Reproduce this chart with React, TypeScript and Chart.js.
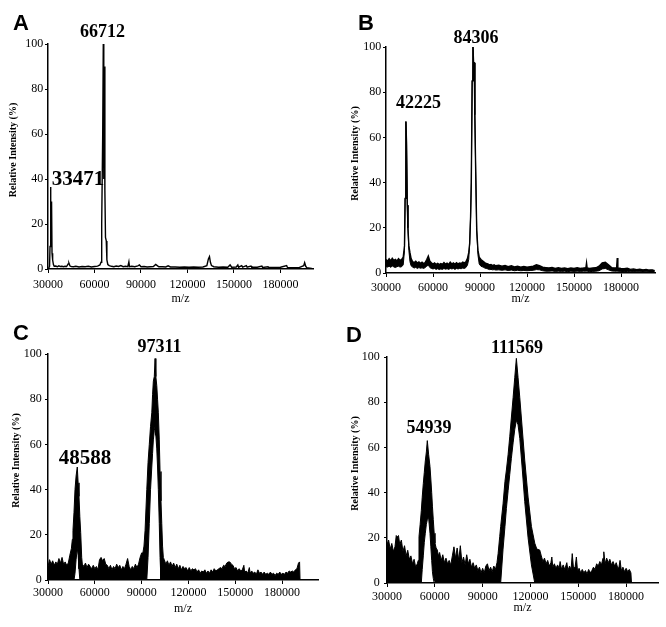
import React, { useEffect, useRef } from "react";
import { Chart, registerables } from "chart.js";

Chart.register(...registerables);

// ---------- data ----------
const X_TICKS = [30000, 60000, 90000, 120000, 150000, 180000];
const Y_TICKS = [0, 20, 40, 60, 80, 100];
const X_TITLE = "m/z";
const Y_TITLE = "Relative Intensity (%)";

// Panel A: [m/z, intensity]
const A_SPECTRUM: number[][] = [
  [30000, 0], [30600, 0.6], [31000, 1.2], [31300, 10], [31600, 36.5], [31900, 20], [32300, 30], [32600, 7], [33000, 4], [33500, 2],
  [34000, 1.2], [35000, 1.3], [36000, 1.0], [37000, 1.4], [38000, 1.1], [39000, 1.2], [40000, 1.0], [41000, 1.2], [42000, 1.1], [43000, 2.3],
  [43500, 2.6], [44200, 1.3], [45000, 1.1], [46500, 1.0], [48000, 1.2], [50000, 0.9], [52000, 1.1], [54000, 1.0], [56000, 1.2], [58000, 0.9],
  [60000, 1.1], [62000, 1.3], [63500, 1.8], [64200, 3], [64650, 20], [65300, 60], [65680, 100], [66000, 40], [66320, 90], [66700, 35],
  [67100, 14], [67600, 12.5], [68000, 4], [68600, 2], [69500, 1.5], [71000, 1.2], [72500, 1.0], [74000, 1.3], [75500, 1.1], [77000, 1.5],
  [78500, 1.0], [80000, 1.2], [81500, 1.0], [82200, 3.2], [82600, 1.0], [84000, 1.2], [86000, 1.0], [88000, 1.4], [89000, 1.8], [90000, 1.0],
  [92000, 1.1], [94000, 0.9], [96000, 1.0], [98000, 1.1], [99500, 2], [100500, 1.5], [101500, 1.0], [104000, 1.0], [106000, 0.9], [107500, 1.4],
  [109000, 0.9], [112000, 0.9], [115000, 0.8], [118000, 0.9], [121000, 0.8], [124000, 0.9], [127000, 0.8], [130000, 0.9], [132500, 1.5], [133500, 4.5],
  [134200, 5.5], [134800, 3], [135500, 1.5], [137000, 1.0], [140000, 0.8], [143000, 0.9], [146000, 0.8], [147500, 1.8], [148500, 0.8], [151500, 0.9],
  [152500, 1.8], [153000, 0.8], [155000, 1.5], [155600, 0.8], [158000, 1.5], [158500, 0.8], [161000, 1.3], [161500, 0.8], [165000, 0.8], [168000, 1.3],
  [168500, 0.7], [172000, 1.0], [172500, 0.7], [176000, 0.7], [180000, 0.8], [184000, 1.5], [184500, 0.7], [188000, 0.6], [192000, 0.6], [195000, 1.5],
  [195600, 2.8], [196300, 1.2], [197000, 0.6], [200000, 0.3], [201000, 0],
];

// Panels B, C, D: [m/z, upper envelope, lower envelope]
const B_SPECTRUM: number[][] = [
  [30000, 6, 2.8], [31000, 5.2, 2.6], [32000, 6.3, 3.0], [33000, 5.4, 2.5], [34000, 6.5, 3.1], [35000, 5.6, 2.7], [36000, 6.0, 2.4], [37000, 5.3, 2.8], [38000, 6.3, 3.0], [39000, 5.5, 2.6],
  [40000, 6.0, 2.8], [41000, 7.0, 3.6], [41800, 12, 10], [42200, 33, 33], [42700, 67, 67], [43100, 58, 58], [43600, 30, 30], [44000, 20, 20], [44600, 12, 10], [45300, 9, 5],
  [46000, 6.5, 3.2], [47000, 5, 2.6], [48000, 4.6, 2.2], [49000, 5.2, 2.5], [50000, 4.4, 2.0], [51000, 4.9, 2.4], [52000, 4.3, 2.1], [53000, 4.8, 2.3], [54000, 4.2, 2.0], [55000, 4.6, 2.4],
  [56000, 6.0, 3.0], [57000, 7.5, 3.5], [58000, 5.2, 2.4], [59000, 4.5, 2.0], [60000, 4.0, 1.8], [61000, 4.5, 2.0], [62000, 3.8, 1.6], [63000, 4.3, 1.9], [64000, 3.7, 1.5], [65000, 4.2, 1.8],
  [66000, 3.8, 1.6], [67000, 4.6, 2.0], [68000, 3.9, 1.7], [69000, 4.4, 1.9], [70000, 3.8, 1.6], [71000, 4.8, 2.0], [72000, 4.0, 1.8], [73000, 4.5, 2.0], [74000, 3.9, 1.6], [75000, 4.6, 2.0],
  [76000, 4.0, 1.8], [77000, 4.4, 2.0], [78000, 4.2, 1.9], [79000, 4.8, 2.2], [80000, 4.5, 2.0], [81000, 5.0, 2.4], [82000, 6.5, 3.5], [82800, 9, 6], [83400, 13, 13], [84000, 25, 25],
  [84450, 40, 40], [85000, 85, 85], [85530, 100, 100], [85900, 93, 93], [86300, 93, 93], [86700, 70, 70], [87250, 45, 45], [87900, 19, 19], [88700, 10, 8], [89500, 7, 4],
  [90600, 6, 3], [92000, 5.2, 2.6], [93000, 4.6, 2.2], [94000, 4.2, 2.0], [95000, 4.0, 1.8], [96000, 3.6, 1.5], [97000, 3.8, 1.6], [98000, 3.3, 1.4], [99000, 3.6, 1.5], [100000, 3.2, 1.3],
  [102000, 3.4, 1.4], [104000, 3.0, 1.2], [106000, 3.3, 1.4], [108000, 2.8, 1.1], [110000, 3.2, 1.3], [112000, 2.7, 1.0], [114000, 3.0, 1.2], [116000, 2.6, 1.0], [118000, 2.9, 1.1], [120000, 2.6, 1.0],
  [122000, 2.8, 1.1], [124000, 3.0, 1.2], [126000, 3.6, 1.5], [128000, 3.2, 1.4], [130000, 2.6, 1.0], [132000, 2.4, 0.8], [134000, 2.2, 0.8], [136000, 2.4, 0.9], [138000, 2.0, 0.7], [140000, 2.3, 0.8],
  [142000, 2.0, 0.7], [144000, 2.2, 0.8], [146000, 1.9, 0.6], [148000, 2.2, 0.8], [150000, 2.0, 0.7], [152000, 2.3, 0.8], [154000, 2.0, 0.7], [156000, 2.2, 0.8], [157600, 2.4, 0.8], [158000, 4.5, 0.8],
  [158400, 2.2, 0.8], [160000, 2.0, 0.6], [162000, 2.2, 0.7], [164000, 2.3, 0.8], [166000, 3.0, 1.0], [168000, 4.5, 1.8], [170000, 4.8, 2.0], [172000, 3.6, 1.4], [174000, 2.4, 0.9], [176000, 2.2, 0.8],
  [177200, 2.3, 0.8], [177600, 6.6, 0.8], [178000, 2.2, 0.8], [180000, 2.0, 0.7], [182000, 1.9, 0.6], [184000, 2.1, 0.7], [186000, 1.6, 0.5], [188000, 1.8, 0.6], [190000, 1.5, 0.5], [192000, 1.7, 0.5],
  [194000, 1.4, 0.4], [196000, 1.6, 0.5], [198000, 1.3, 0.4], [200000, 1.4, 0.4], [201500, 1.0, 0.4],
];

const C_SPECTRUM: number[][] = [
  [30000, 6, 0], [31000, 9, 0], [32000, 7, 0], [33000, 8.5, 0], [34000, 6.5, 0], [35000, 8, 0], [36000, 7, 0], [37000, 9.5, 0], [38000, 7.5, 0], [39000, 10, 0],
  [40000, 7, 0], [41000, 8, 0], [42000, 6.5, 0], [43000, 7.5, 0], [44000, 11, 0], [45000, 14, 0], [45600, 18, 0], [46000, 22, 0], [46660, 30, 0], [47300, 40, 3],
  [48000, 46, 9], [48770, 50, 14], [49300, 43, 11], [49860, 37, 5], [50400, 28, 0], [50950, 21, 0], [51590, 10, 0], [52000, 7, 0],
  [53000, 6, 0], [54000, 7.5, 0], [55000, 5.5, 0], [56000, 7, 0], [57000, 6, 0], [58000, 5, 0], [59000, 6.5, 0], [60000, 5, 0], [61000, 6, 0], [62000, 4.5, 0],
  [63000, 9, 0], [64000, 10, 0], [65000, 8.5, 0], [66000, 9.5, 0], [67000, 7, 0], [68000, 6.5, 0], [69000, 5, 0], [70000, 6.5, 0], [71000, 4.5, 0], [72000, 6, 0],
  [73000, 5, 0], [74000, 7, 0], [75000, 5.5, 0], [76000, 6.5, 0], [77000, 4.5, 0], [78000, 6, 0], [79000, 5, 0], [80000, 7, 0], [81000, 9.5, 0], [82000, 6, 0],
  [83000, 4.5, 0], [84000, 6, 0], [85000, 5, 0], [86000, 7, 0], [87000, 5.5, 0], [88000, 7, 0], [89000, 10, 0], [90000, 12, 0], [90800, 12, 0], [91500, 15, 0],
  [92200, 22, 0], [93300, 40, 0], [94100, 52, 10], [94900, 60, 25], [95700, 68, 40], [96500, 74, 50], [97000, 82, 56], [97500, 88, 62], [98100, 90, 66], [98600, 98, 68],
  [99100, 90, 64], [99700, 86, 58], [100200, 80, 50], [100700, 74, 40], [101300, 62, 25], [101800, 48, 10], [102400, 35, 0], [102900, 25, 0], [103400, 15, 0], [103900, 10, 0],
  [104500, 9, 0], [105500, 7, 0], [106500, 8.5, 0], [107500, 6.5, 0], [108500, 8, 0], [109500, 6, 0], [110500, 7.5, 0], [111500, 5.5, 0], [112500, 7, 0], [113500, 5, 0],
  [114500, 6.5, 0], [115500, 4.5, 0], [116500, 6, 0], [117500, 5, 0], [118500, 5.5, 0], [119500, 4, 0], [120500, 5.5, 0], [121500, 4, 0], [122500, 5, 0], [123500, 4.5, 0],
  [124500, 5, 0], [125500, 3.5, 0], [126500, 4.5, 0], [127500, 3, 0], [128500, 4, 0], [129500, 3.5, 0], [130500, 4.5, 0], [131500, 3, 0], [132500, 4, 0], [133500, 3, 0],
  [134500, 4.5, 0], [135500, 3.5, 0], [136500, 5, 0], [137500, 4, 0], [138500, 4.5, 0], [139500, 5, 0], [140500, 5.5, 0], [141500, 5, 0], [142500, 6.5, 0], [143500, 6, 0],
  [144500, 7.5, 0], [145500, 8, 0], [146500, 8, 0], [147500, 7, 0], [148500, 6.5, 0], [149500, 5, 0], [150500, 5.5, 0], [151500, 4, 0], [152500, 5, 0], [153500, 4, 0],
  [154500, 4.5, 0], [155500, 6.5, 0], [156000, 3.5, 0], [157000, 4, 0], [158000, 3, 0], [159000, 5.5, 0], [159500, 3, 0], [160500, 4, 0], [161500, 3, 0], [162500, 3.5, 0],
  [163500, 2.5, 0], [164500, 4.5, 0], [165500, 3, 0], [166500, 3.5, 0], [167500, 2.5, 0], [168500, 3.5, 0], [169500, 2.5, 0], [170500, 3, 0], [171500, 2.5, 0], [172500, 3.5, 0],
  [173500, 2.5, 0], [174500, 3, 0], [175500, 2, 0], [176500, 3, 0], [177500, 2.5, 0], [178500, 3.5, 0], [179500, 2.5, 0], [180500, 3, 0], [181500, 2.5, 0], [182500, 3.5, 0],
  [183500, 3, 0], [184500, 4, 0], [185500, 3.5, 0], [186500, 4, 0], [187500, 3.5, 0], [188500, 4.5, 0], [189500, 5, 0], [190500, 7.5, 0], [191200, 8, 0], [191500, 0, 0],
];

const D_SPECTRUM: number[][] = [
  [30000, 17, 0], [31000, 19, 0], [32000, 15, 0], [33000, 17.5, 0], [34000, 14, 0], [35000, 16, 0], [35800, 21, 0], [36500, 20.5, 0], [37200, 21, 0], [38000, 17, 0],
  [39000, 19, 0], [40000, 14, 0], [41000, 16.5, 0], [42000, 12, 0], [43000, 14.5, 0], [44000, 10.5, 0], [45000, 12, 0], [46000, 8.5, 0], [47000, 10.5, 0], [48000, 7, 0],
  [49000, 8.5, 0], [49600, 10, 0], [50070, 20.5, 0], [50800, 26, 0], [51520, 32, 0], [52100, 38, 6], [52770, 44, 12], [53400, 49, 18], [54030, 54, 22], [54700, 58, 26],
  [55280, 63, 28], [56100, 57, 29], [56970, 51.5, 22], [57500, 46, 16], [58040, 40, 10], [58500, 34, 5], [59040, 28, 2], [59600, 22, 0], [60110, 17.7, 0], [60800, 15.5, 0],
  [61550, 14.6, 0], [62300, 12, 0], [63000, 13.5, 0], [64000, 10, 0], [65000, 12.5, 0], [66000, 9, 0], [67000, 11, 0], [68000, 8.5, 0], [69000, 10, 0], [70000, 8, 0],
  [71000, 12, 0], [72000, 16, 0], [73000, 11, 0], [74000, 15.5, 0], [75000, 10, 0], [76000, 16.5, 0], [77000, 9, 0], [78000, 11.5, 0], [79000, 8, 0], [80000, 12.5, 0],
  [81000, 8.5, 0], [82000, 10.5, 0], [83000, 7, 0], [84000, 9, 0], [85000, 6.5, 0], [86000, 8, 0], [87000, 5.5, 0], [88000, 7, 0], [89000, 4.5, 0], [90000, 6.5, 0],
  [91000, 4.5, 0], [92000, 7.5, 0], [93000, 8.5, 0], [94000, 5.5, 0], [95000, 7, 0], [96000, 5, 0], [97000, 7.5, 0], [98000, 6, 0], [99000, 9, 0], [99700, 13, 0],
  [100700, 20.5, 0], [101300, 25, 0], [102800, 35, 15], [104000, 45, 25], [104900, 50, 33], [106000, 57, 41], [107000, 64.7, 48], [108000, 73, 55], [109100, 82, 62], [110150, 91, 68],
  [111150, 99.4, 72], [112200, 91, 70], [113300, 82, 64], [114900, 67.7, 50], [116400, 54.4, 36], [118500, 38, 20], [120600, 25, 8], [122700, 17.6, 0], [124000, 15, 0], [125800, 14.6, 0],
  [126800, 12, 0], [127800, 9.5, 0], [128800, 11, 0], [129800, 8.5, 0], [130800, 10, 0], [131800, 7.5, 0], [132800, 9, 0], [133400, 11.5, 0], [134000, 7, 0], [135000, 8.5, 0],
  [136000, 6.5, 0], [137000, 8, 0], [138000, 6.5, 0], [138600, 9.5, 0], [139500, 6, 0], [140500, 8, 0], [141500, 6, 0], [142800, 9, 0], [143500, 5.5, 0], [144500, 7.5, 0],
  [145500, 6, 0], [146200, 13, 0], [147000, 6.5, 0], [148000, 7, 0], [148800, 11.5, 0], [149500, 5.5, 0], [150500, 6.5, 0], [151500, 4.5, 0], [152500, 6, 0], [153500, 4.5, 0],
  [154500, 5.5, 0], [155500, 4, 0], [156500, 6, 0], [157500, 4.5, 0], [158500, 5.5, 0], [159500, 7, 0], [160500, 6, 0], [161500, 8.5, 0], [162500, 7.5, 0], [163500, 9.5, 0],
  [164500, 8, 0], [165500, 11, 0], [166000, 13.8, 0], [166800, 8.5, 0], [167800, 11, 0], [168800, 9, 0], [169800, 10.5, 0], [170800, 8, 0], [171800, 9.5, 0], [172800, 7.5, 0],
  [173800, 9, 0], [174800, 6.5, 0], [175500, 7, 0], [176200, 10, 0], [177000, 5.5, 0], [178000, 7, 0], [179000, 5, 0], [180000, 6.5, 0], [181000, 5, 0], [182000, 6, 0],
  [183000, 4.5, 0], [183400, 0, 0],
];

// Peak annotations: text, m/z position (centre), baseline intensity, font size
const A_PEAK_TEXT = ["66712", "33471"];
const A_PEAK_MZ = [65170, 49360];
const A_PEAK_Y = [103.1, 37.3];
const A_PEAK_SIZE = [18, 21];

const B_PEAK_TEXT = ["84306", "42225"];
const B_PEAK_MZ = [87450, 50750];
const B_PEAK_Y = [101.8, 73.0];
const B_PEAK_SIZE = [18, 18];

const C_PEAK_TEXT = ["97311", "48588"];
const C_PEAK_MZ = [101440, 53700];
const C_PEAK_Y = [101.0, 51.3];
const C_PEAK_SIZE = [18, 21];

const D_PEAK_TEXT = ["111569", "54939"];
const D_PEAK_MZ = [111550, 56350];
const D_PEAK_Y = [101.6, 66.2];
const D_PEAK_SIZE = [18, 18];

// ---------- layout ----------
type Panel = {
  letter: string;
  left: number; top: number; width: number; height: number;
  padTop: number; padRight: number; yAxisW: number; xAxisH: number; xMax: number;
  yTitleX: number; xTitlePad: number; xTickPad: number; yTickPad: number;
  letterX: number; letterY: number;
  kind: "line" | "band";
  spectrum: number[][];
  peakText: string[]; peakMz: number[]; peakY: number[]; peakSize: number[];
};

const PANELS: Panel[] = [
  {
    letter: "A", left: 0, top: 0, width: 333, height: 313,
    padTop: 44, padRight: 20, yAxisW: 48, xAxisH: 44, xMax: 201000,
    yTitleX: 13, xTitlePad: 6.8, xTickPad: 4.3, yTickPad: 1.7, letterX: 13, letterY: 30,
    kind: "line", spectrum: A_SPECTRUM,
    peakText: A_PEAK_TEXT, peakMz: A_PEAK_MZ, peakY: A_PEAK_Y, peakSize: A_PEAK_SIZE,
  },
  {
    letter: "B", left: 333, top: 0, width: 333, height: 313,
    padTop: 47, padRight: 11, yAxisW: 53, xAxisH: 40, xMax: 201700,
    yTitleX: 22.5, xTitlePad: 6.8, xTickPad: 3.3, yTickPad: 1.7, letterX: 25, letterY: 30,
    kind: "band", spectrum: B_SPECTRUM,
    peakText: B_PEAK_TEXT, peakMz: B_PEAK_MZ, peakY: B_PEAK_Y, peakSize: B_PEAK_SIZE,
  },
  {
    letter: "C", left: 0, top: 313, width: 333, height: 314,
    padTop: 41, padRight: 15, yAxisW: 48, xAxisH: 47, xMax: 203000,
    yTitleX: 16, xTitlePad: 10.8, xTickPad: 1.5, yTickPad: 3.3, letterX: 13, letterY: 27,
    kind: "band", spectrum: C_SPECTRUM,
    peakText: C_PEAK_TEXT, peakMz: C_PEAK_MZ, peakY: C_PEAK_Y, peakSize: C_PEAK_SIZE,
  },
  {
    letter: "D", left: 333, top: 313, width: 333, height: 314,
    padTop: 44, padRight: 8, yAxisW: 54, xAxisH: 44, xMax: 200000,
    yTitleX: 22.5, xTitlePad: 12.3, xTickPad: 2.3, yTickPad: 4.3, letterX: 13, letterY: 29,
    kind: "band", spectrum: D_SPECTRUM,
    peakText: D_PEAK_TEXT, peakMz: D_PEAK_MZ, peakY: D_PEAK_Y, peakSize: D_PEAK_SIZE,
  },
];

const SERIF = '"Liberation Serif", "Times New Roman", serif';
const SANS = '"Liberation Sans", Arial, sans-serif';

function buildChart(canvas: HTMLCanvasElement, p: Panel): Chart {
  const datasets: any[] = [];
  if (p.kind === "line") {
    datasets.push({
      data: p.spectrum.map((r) => ({ x: r[0], y: r[1] })),
      borderColor: "#000",
      borderWidth: 1.4,
      pointRadius: 0,
      fill: false,
      tension: 0,
    });
  } else {
    datasets.push({
      data: p.spectrum.map((r) => ({ x: r[0], y: r[1] })),
      borderColor: "#000",
      backgroundColor: "#000",
      borderWidth: p.letter === "B" ? 1.4 : 1,
      pointRadius: 0,
      fill: "+1",
      tension: 0,
    });
    datasets.push({
      data: p.spectrum.map((r) => ({ x: r[0], y: r[2] })),
      borderColor: "#000",
      borderWidth: 1,
      pointRadius: 0,
      fill: false,
      tension: 0,
    });
  }

  const annot = {
    id: "peakAnnotations",
    afterDatasetsDraw(chart: any) {
      const { ctx, scales, chartArea } = chart;
      ctx.save();
      ctx.fillStyle = "#000";
      ctx.textAlign = "center";
      ctx.textBaseline = "alphabetic";
      p.peakText.forEach((t, i) => {
        ctx.font = `bold ${p.peakSize[i]}px ${SERIF}`;
        ctx.fillText(t, scales.x.getPixelForValue(p.peakMz[i]), scales.y.getPixelForValue(p.peakY[i]));
      });
      // y-axis title
      ctx.save();
      ctx.translate(p.yTitleX, (chartArea.top + chartArea.bottom) / 2 - 6.5);
      ctx.rotate(-Math.PI / 2);
      ctx.font = `bold 10px ${SERIF}`;
      ctx.textAlign = "center";
      ctx.textBaseline = "middle";
      ctx.fillText(Y_TITLE, 0, 0);
      ctx.restore();
      // panel letter
      ctx.textAlign = "left";
      ctx.font = `bold 22px ${SANS}`;
      ctx.fillText(p.letter, p.letterX, p.letterY);
      ctx.restore();
    },
  };

  return new Chart(canvas, {
    type: "line",
    data: { datasets },
    options: {
      animation: false,
      responsive: false,
      devicePixelRatio: 1,
      layout: { padding: { top: p.padTop, right: p.padRight, left: 0, bottom: 0 } },
      plugins: { legend: { display: false }, tooltip: { enabled: false } },
      scales: {
        x: {
          type: "linear",
          min: 30000,
          max: p.xMax,
          afterFit: (s: any) => { s.height = p.xAxisH; },
          afterBuildTicks: (s: any) => { s.ticks = X_TICKS.map((v) => ({ value: v })); },
          ticks: {
            color: "#000",
            font: { family: SERIF, size: 12 },
            padding: p.xTickPad,
            maxRotation: 0,
            autoSkip: false,
            callback: (v: any) => String(v),
          },
          grid: { display: true, drawOnChartArea: false, drawTicks: true, tickLength: 4, color: "#000", lineWidth: 1 },
          border: { display: true, color: "#000", width: 1.5 },
          title: {
            display: true,
            text: X_TITLE,
            color: "#000",
            font: { family: SERIF, size: 12 },
            padding: { top: 0, bottom: p.xTitlePad },
          },
        },
        y: {
          type: "linear",
          min: 0,
          max: 100,
          afterFit: (s: any) => { s.width = p.yAxisW; },
          afterBuildTicks: (s: any) => { s.ticks = Y_TICKS.map((v) => ({ value: v })); },
          ticks: {
            color: "#000",
            font: { family: SERIF, size: 12 },
            padding: p.yTickPad,
            callback: (v: any) => String(v),
          },
          grid: { display: true, drawOnChartArea: false, drawTicks: true, tickLength: 3, color: "#000", lineWidth: 1 },
          border: { display: true, color: "#000", width: 1.5 },
          title: { display: false },
        },
      },
    } as any,
    plugins: [annot],
  });
}

function PanelChart({ p }: { p: Panel }) {
  const ref = useRef<HTMLCanvasElement | null>(null);
  useEffect(() => {
    if (!ref.current) return;
    const chart = buildChart(ref.current, p);
    return () => chart.destroy();
  }, [p]);
  return (
    <div style={{ position: "absolute", left: p.left, top: p.top, width: p.width, height: p.height }}>
      <canvas ref={ref} width={p.width} height={p.height} style={{ width: p.width, height: p.height, display: "block" }} />
    </div>
  );
}

export default function App() {
  return (
    <div style={{ position: "absolute", left: 0, top: 0, width: 666, height: 627, background: "#fff", overflow: "hidden" }}>
      {PANELS.map((p) => (
        <PanelChart key={p.letter} p={p} />
      ))}
    </div>
  );
}
